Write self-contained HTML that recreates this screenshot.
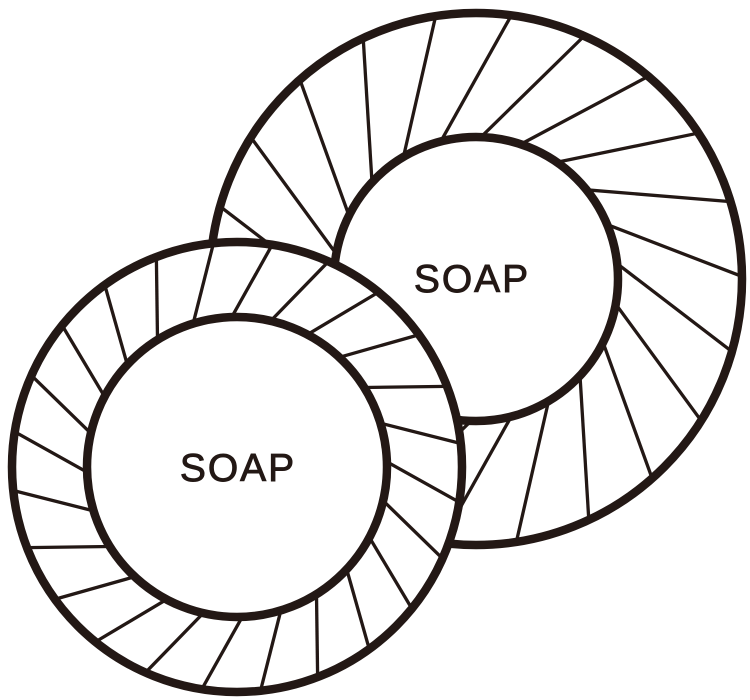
<!DOCTYPE html>
<html><head><meta charset="utf-8"><style>
html,body{margin:0;padding:0;background:#fff;width:750px;height:700px;overflow:hidden}
text{font-family:"Liberation Sans","DejaVu Sans",sans-serif;font-size:39px;fill:#231815;stroke:#231815;stroke-width:0.9px;letter-spacing:2px}
</style></head><body>
<svg id="s" width="750" height="700" viewBox="0 0 750 700" xmlns="http://www.w3.org/2000/svg">
<g id="big"></g>
<g id="small"></g>
</svg>
<script>
const NS="http://www.w3.org/2000/svg",C="#231815";
function el(p,t,a){const e=document.createElementNS(NS,t);for(const k in a)e.setAttribute(k,a[k]);p.appendChild(e);return e;}
function disc(g,cx,cy,ro,ri,n,start,off,label,tx,ty){
  el(g,"circle",{cx,cy,r:ro,fill:"#fff",stroke:C,"stroke-width":8.5});
  for(let i=0;i<n;i++){
    const a=(start+i*360/n)*Math.PI/180,b=a+off*Math.PI/180;
    el(g,"line",{x1:cx+ri*Math.cos(a),y1:cy+ri*Math.sin(a),x2:cx+ro*Math.cos(b),y2:cy+ro*Math.sin(b),stroke:C,"stroke-width":3.3});
  }
  el(g,"circle",{cx,cy,r:ri,fill:"#fff",stroke:C,"stroke-width":8.5});
  const t=el(g,"text",{x:tx,y:ty,"text-anchor":"middle"});t.textContent=label;
}
disc(document.getElementById("big"),476,279,266,142,22,-88,22,"SOAP",472,292);
disc(document.getElementById("small"),237,467,225,150,24,-62,11,"SOAP",238,481);
</script>
</body></html>
